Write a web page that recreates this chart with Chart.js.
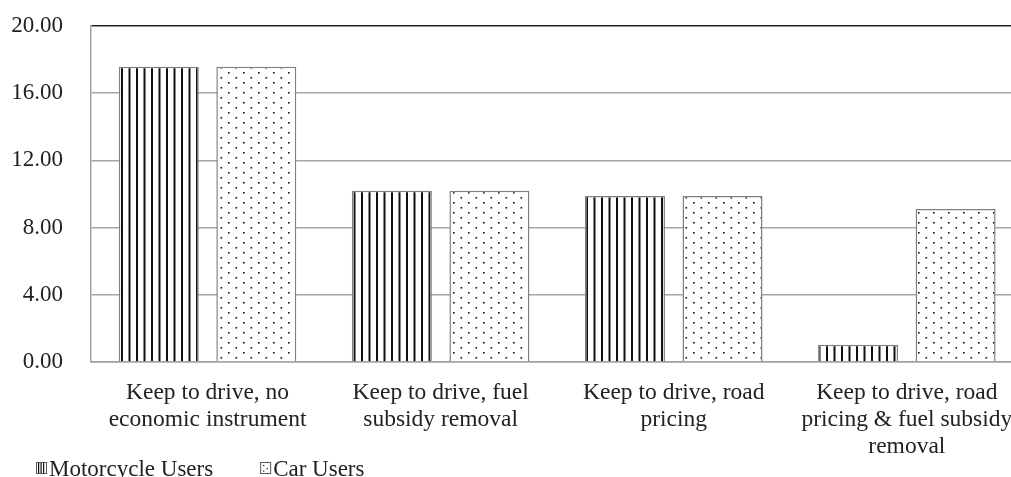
<!DOCTYPE html>
<html>
<head>
    <title>Keep to drive</title>
    <script src="https://cdn.jsdelivr.net/npm/chart.js"></script>
    <style>
        html, body { margin: 0; padding: 0; background: #fff; overflow: hidden; }
        #wrap { width: 1030px; height: 477px; }
    </style>
</head>
<body>
    <div id="wrap">
        <canvas id="grafica" width="1030" height="477"></canvas>
    </div>

    <script>
        // datos
        var categorias = [
            ['Keep to drive, no', 'economic instrument'],
            ['Keep to drive, fuel', 'subsidy removal'],
            ['Keep to drive, road', 'pricing'],
            ['Keep to drive, road', 'pricing & fuel subsidy', 'removal']
        ];
        var motoUsers = [17.58, 10.20, 9.88, 1.03];
        var carUsers = [17.58, 10.20, 9.88, 9.10];
        var yTicks = [0, 4, 8, 12, 16, 20];

        // patrones de relleno
        function rayas() {
            var c = document.createElement('canvas');
            c.width = 15; c.height = 4;
            var x = c.getContext('2d');
            x.fillStyle = '#fff';
            x.fillRect(0, 0, 15, 4);
            x.fillStyle = '#111';
            x.fillRect(1, 0, 2, 4);
            x.fillRect(8.5, 0, 2, 4);
            return x.createPattern(c, 'repeat');
        }

        function puntos() {
            var c = document.createElement('canvas');
            c.width = 15; c.height = 10;
            var x = c.getContext('2d');
            x.fillStyle = '#fff';
            x.fillRect(0, 0, 15, 10);
            x.fillStyle = '#111';
            x.fillRect(3, 2, 1.6, 1.6);
            x.fillRect(10.5, 7, 1.6, 1.6);
            return x.createPattern(c, 'repeat');
        }

        var patMoto = rayas();
        var patCar = puntos();

        Chart.defaults.font.family = "'Liberation Serif', 'Times New Roman', serif";
        Chart.defaults.font.size = 23;
        Chart.defaults.color = '#222';

        // cuadritos de la leyenda
        function cuadro(ctx, i, x, y) {
            ctx.fillStyle = '#fff';
            ctx.fillRect(x, y, 10, 11);
            ctx.fillStyle = '#111';
            if (i === 0) {
                ctx.fillRect(x + 2, y, 1.2, 11);
                ctx.fillRect(x + 4.5, y, 1.2, 11);
                ctx.fillRect(x + 7, y, 1.2, 11);
            } else {
                ctx.fillRect(x + 3, y + 3, 1.2, 1.2);
                ctx.fillRect(x + 6.5, y + 6, 1.2, 1.2);
                ctx.fillRect(x + 3, y + 8.5, 1.2, 1.2);
            }
            ctx.strokeStyle = '#555';
            ctx.lineWidth = 1;
            ctx.strokeRect(x + 0.5, y + 0.5, 10, 11);
        }

        var leyenda = {
            id: 'leyenda',
            afterDraw: function (chart) {
                var ctx = chart.ctx;
                var x = 36;
                ctx.save();
                ctx.font = "23px 'Liberation Serif'";
                ctx.textBaseline = 'alphabetic';
                chart.data.datasets.forEach(function (ds, i) {
                    cuadro(ctx, i, x, 462);
                    ctx.fillStyle = '#222';
                    ctx.fillText(ds.label, x + 13, 476);
                    x += 13 + ctx.measureText(ds.label).width + 47;
                });
                ctx.restore();
            }
        };

        var ctx = document.getElementById('grafica').getContext('2d');

        var grafica = new Chart(ctx, {
            type: 'bar',
            data: {
                labels: categorias,
                datasets: [{
                    label: 'Motorcycle Users',
                    data: motoUsers,
                    backgroundColor: patMoto,
                    borderColor: '#808080',
                    borderWidth: 1.5,
                    categoryPercentage: 0.837,
                    barPercentage: 0.82
                }, {
                    label: 'Car Users',
                    data: carUsers,
                    backgroundColor: patCar,
                    borderColor: '#808080',
                    borderWidth: 1.5,
                    categoryPercentage: 0.837,
                    barPercentage: 0.82
                }]
            },
            options: {
                responsive: false,
                animation: false,
                layout: { padding: { left: 10, top: 26, right: 6, bottom: 0 } },
                plugins: {
                    legend: { display: false },
                    tooltip: { enabled: false }
                },
                scales: {
                    x: {
                        grid: { display: false, drawTicks: false },
                        border: { color: '#a0a0a0', width: 1.5 },
                        ticks: {
                            padding: 17,
                            maxRotation: 0,
                            autoSkip: false,
                            font: { size: 23.5, lineHeight: 1.15 }
                        },
                        afterFit: function (s) { s.height = 115; }
                    },
                    y: {
                        min: 0,
                        max: 20,
                        afterBuildTicks: function (s) {
                            s.ticks = yTicks.map(function (v) { return { value: v }; });
                        },
                        grid: {
                            drawTicks: false,
                            lineWidth: 1.5,
                            color: function (c) {
                                return c.tick && c.tick.value === 20 ? '#222' : '#a6a6a6';
                            }
                        },
                        border: { color: '#a0a0a0', width: 1.5 },
                        ticks: {
                            padding: 28,
                            callback: function (v) { return Number(v).toFixed(2); }
                        },
                        afterFit: function (s) {
                            s.width = 81;
                            s.paddingTop = 0;
                            s.paddingBottom = 0;
                        }
                    }
                }
            },
            plugins: [leyenda]
        });
    </script>
</body>
</html>
